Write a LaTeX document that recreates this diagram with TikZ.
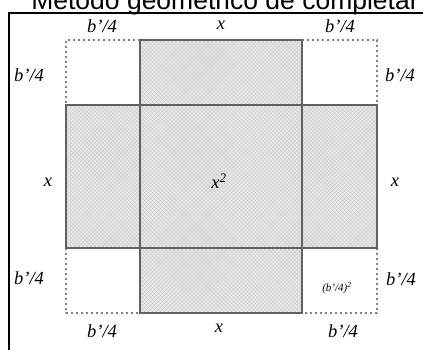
\documentclass[tikz,border=0pt]{standalone}
\usepackage{fontspec}
\setmainfont{Liberation Serif}
\newfontfamily\titlefont{Liberation Sans}
\usetikzlibrary{patterns.meta}
\begin{document}
\begin{tikzpicture}[x=1pt,y=-1pt,
  lbl/.style={font=\itshape\fontsize{18.5}{18.5}\selectfont, inner sep=0pt},
  edge/.style={draw=black!62, line width=1.5pt},
  dotline/.style={draw=black!50, line width=1.8pt, dash pattern=on 2pt off 3pt},
  shade/.style={fill=black!9},
  hatch/.style={pattern={Lines[angle=45,distance=2.8pt,line width=0.4pt]}, pattern color=black!20},
  hatchb/.style={pattern={Lines[angle=-45,distance=2.8pt,line width=0.4pt]}, pattern color=black!20}]
\useasboundingbox (0,0) rectangle (423,349);
% title
\node[font=\titlefont\fontsize{26.5}{26.5}\selectfont, anchor=base, inner sep=0pt] (title) at (225,9) {Método geométrico de completar};
% frame
\draw[line width=2pt] (9,352) -- (9,13) -- (426,13);
% cross-shaped shaded region
\def\crosspath{(140,40) -- (302,40) -- (302,105) -- (377,105) -- (377,248) -- (302,248) -- (302,313) -- (140,313) -- (140,248) -- (66,248) -- (66,105) -- (140,105) -- cycle}
\path[shade] \crosspath;
\path[hatch] \crosspath;
\path[hatchb] \crosspath;
% dotted corner squares
\draw[dotline] (140,40) -- (66,40) -- (66,105);
\draw[dotline] (302,40) -- (377,40) -- (377,105);
\draw[dotline] (66,248) -- (66,313) -- (140,313);
\draw[dotline] (377,248) -- (377,313) -- (302,313);
% solid edges
\draw[edge] (140,40) rectangle (302,313);
\draw[edge] (66,105) rectangle (377,248);
% labels
\node[lbl] (t1) at (102,26) {b'/4};
\node[lbl] (t2) at (221,25) {x};
\node[lbl] (t3) at (340,26) {b'/4};
\node[lbl] (l1) at (29,75) {b'/4};
\node[lbl] (l2) at (48,182) {x};
\node[lbl] (l3) at (29,278) {b'/4};
\node[lbl] (r1) at (400,75) {b'/4};
\node[lbl] (r2) at (395,182) {x};
\node[lbl] (r3) at (401,279) {b'/4};
\node[lbl] (b1) at (102,331) {b'/4};
\node[lbl] (b2) at (219,328) {x};
\node[lbl] (b3) at (343,331) {b'/4};
\node[lbl] (c) at (219,181) {x\textsuperscript{2}};
\node[lbl, font=\itshape\fontsize{11}{11}\selectfont] (sq) at (337,288) {(b'/4)\textsuperscript{2}};
\end{tikzpicture}
\end{document}
